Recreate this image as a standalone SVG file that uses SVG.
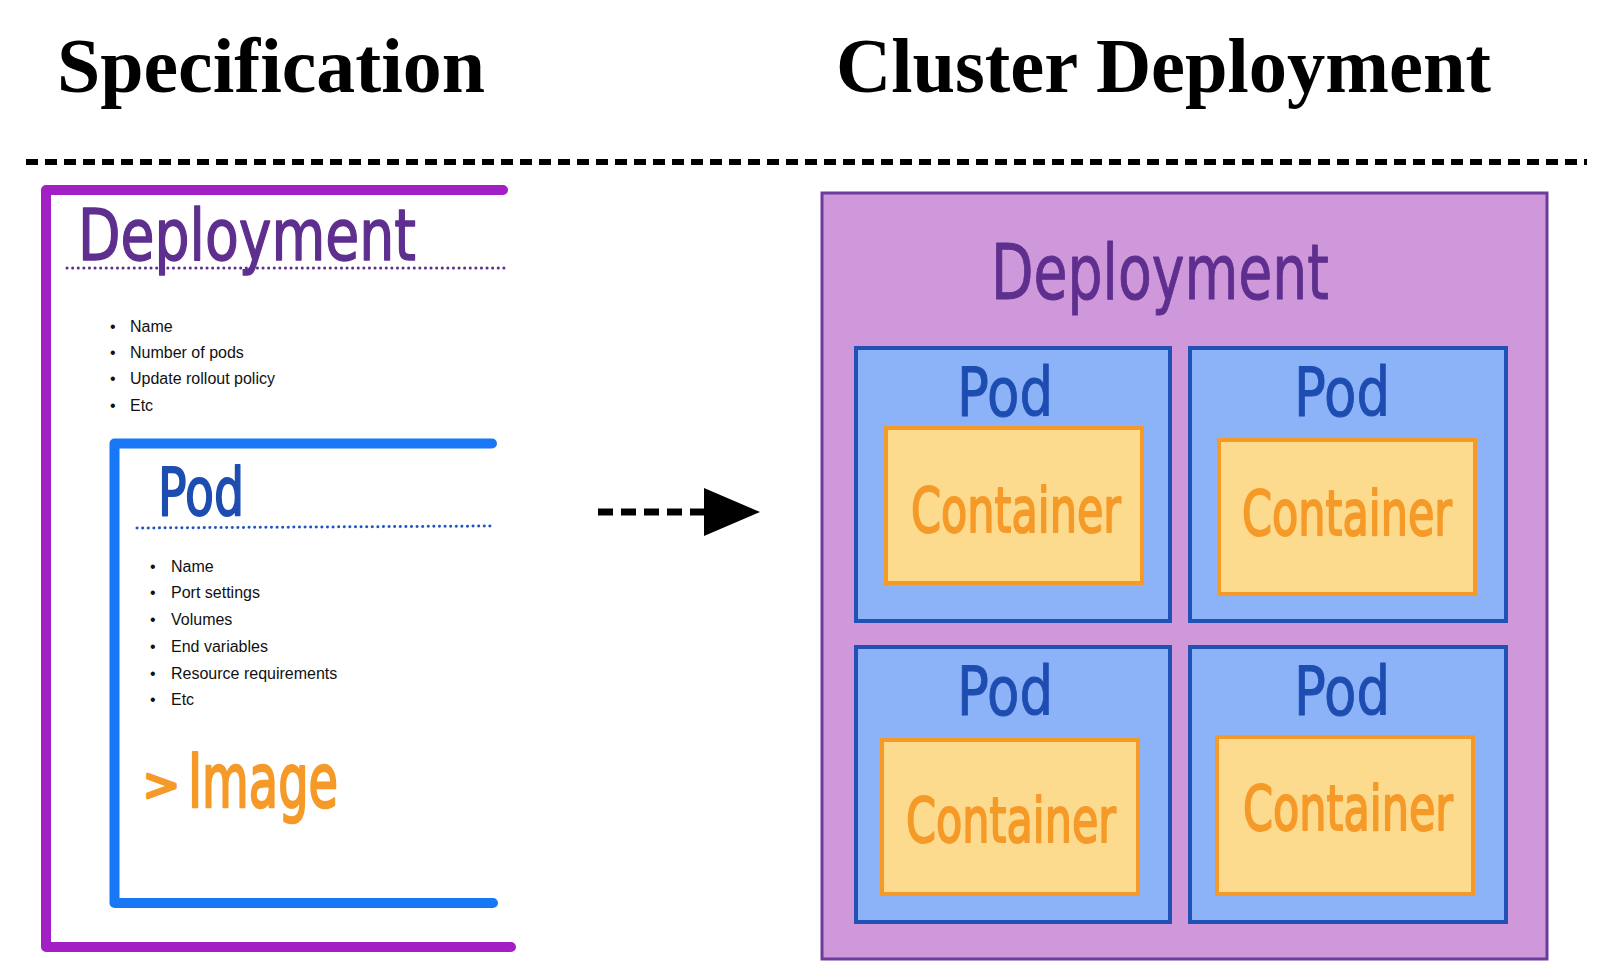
<svg xmlns="http://www.w3.org/2000/svg" width="1602" height="966" viewBox="0 0 1602 966">
  <style>
    .title { font-family: "Liberation Serif", "Times New Roman", serif; font-weight: bold; font-size: 78px; fill: #000; }
    .list { font-family: "Liberation Sans", Arial, sans-serif; font-size: 16px; fill: #111; }
    .hand { font-family: "DejaVu Sans", "Noto Sans", sans-serif; font-weight: normal; stroke-linejoin: round; stroke-linecap: round; }
    .h-purple { fill: #5E2F8E; stroke: #5E2F8E; }
    .h-blue { fill: #1E4DB1; stroke: #1E4DB1; }
    .h-orange { fill: #F59A28; stroke: #F59A28; }
    .bracket { fill: none; stroke-width: 10; stroke-linecap: round; stroke-linejoin: round; }
    .dots { fill: none; stroke-width: 3; stroke-linecap: round; stroke-dasharray: 0.1 5.5; }
    .podbox { fill: #8CB2F8; stroke: #2151B5; stroke-width: 4; }
    .contbox { fill: #FCDB8E; stroke: #F59A27; stroke-width: 4; }
  </style>

  <rect width="1602" height="966" fill="#ffffff"/>

  <!-- Titles -->
  <g id="title-spec">
    <text class="title" x="57" y="92" textLength="428" lengthAdjust="spacingAndGlyphs">Specification</text>
  </g>
  <g id="title-cluster">
    <text class="title" x="836" y="92" textLength="655" lengthAdjust="spacingAndGlyphs">Cluster Deployment</text>
  </g>

  <!-- Divider -->
  <line x1="26" y1="162" x2="1587" y2="162" stroke="#000" stroke-width="6" stroke-dasharray="12 7"/>

  <!-- Specification: Deployment -->
  <g id="spec-deployment">
    <path class="bracket" stroke="#A21EC5" d="M503,190 L46,190 L46,947 L511,947"/>
    <text class="hand h-purple" x="78" y="260" font-size="72" stroke-width="1.5" textLength="338" lengthAdjust="spacingAndGlyphs">Deployment</text>
    <line class="dots" stroke="#5E2F8E" x1="67" y1="268" x2="506" y2="268"/>
    <g class="list">
      <text x="110" y="332">•</text><text x="130" y="332">Name</text>
      <text x="110" y="358">•</text><text x="130" y="358">Number of pods</text>
      <text x="110" y="384">•</text><text x="130" y="384">Update rollout policy</text>
      <text x="110" y="411">•</text><text x="130" y="411">Etc</text>
    </g>
  </g>

  <!-- Specification: Pod -->
  <g id="spec-pod">
    <path class="bracket" stroke="#1877F5" d="M492,443.5 L114.5,443.5 L114.5,903 L493,903"/>
    <text class="hand h-blue" x="158" y="515" font-size="66" stroke-width="2" textLength="86" lengthAdjust="spacingAndGlyphs">Pod</text>
    <line class="dots" stroke="#2154C0" x1="137" y1="528" x2="490" y2="526"/>
    <g class="list">
      <text x="150" y="572">•</text><text x="171" y="572">Name</text>
      <text x="150" y="598">•</text><text x="171" y="598">Port settings</text>
      <text x="150" y="625">•</text><text x="171" y="625">Volumes</text>
      <text x="150" y="652">•</text><text x="171" y="652">End variables</text>
      <text x="150" y="679">•</text><text x="171" y="679">Resource requirements</text>
      <text x="150" y="705">•</text><text x="171" y="705">Etc</text>
    </g>
  </g>

  <!-- Specification: Image -->
  <g id="spec-image">
    <text class="hand h-orange" x="143" y="800" font-size="44" stroke-width="3">&gt;</text>
    <text class="hand h-orange" x="188" y="807" font-size="74" stroke-width="2.5" textLength="150" lengthAdjust="spacingAndGlyphs">Image</text>
  </g>

  <!-- Connectors -->
  <g id="connectors">
    <line x1="598" y1="512" x2="706" y2="512" stroke="#000" stroke-width="7" stroke-dasharray="15 8"/>
    <polygon points="704,488 760,512 704,536" fill="#000"/>
  </g>

  <!-- Cluster Deployment -->
  <g id="cluster-deployment">
    <rect x="822" y="193" width="725" height="766" fill="#CF98DB" stroke="#6A3D9A" stroke-width="3"/>
    <text class="hand h-purple" x="991" y="299" font-size="76" stroke-width="1" textLength="338" lengthAdjust="spacingAndGlyphs">Deployment</text>
  </g>

  <g id="pod-1">
    <rect class="podbox" x="856" y="348" width="314" height="273"/>
    <text class="hand h-blue" x="957" y="416" font-size="68" stroke-width="1" textLength="96" lengthAdjust="spacingAndGlyphs">Pod</text>
  </g>
  <g id="container-1">
    <rect class="contbox" x="886" y="428" width="256" height="155"/>
    <text class="hand h-orange" x="911" y="532" font-size="62" stroke-width="2" textLength="210" lengthAdjust="spacingAndGlyphs">Container</text>
  </g>

  <g id="pod-2">
    <rect class="podbox" x="1190" y="348" width="316" height="273"/>
    <text class="hand h-blue" x="1294" y="416" font-size="68" stroke-width="1" textLength="96" lengthAdjust="spacingAndGlyphs">Pod</text>
  </g>
  <g id="container-2">
    <rect class="contbox" x="1219" y="440" width="256" height="154"/>
    <text class="hand h-orange" x="1242" y="535" font-size="62" stroke-width="2" textLength="210" lengthAdjust="spacingAndGlyphs">Container</text>
  </g>

  <g id="pod-3">
    <rect class="podbox" x="856" y="647" width="314" height="275"/>
    <text class="hand h-blue" x="957" y="715" font-size="68" stroke-width="1" textLength="96" lengthAdjust="spacingAndGlyphs">Pod</text>
  </g>
  <g id="container-3">
    <rect class="contbox" x="882" y="740" width="256" height="154"/>
    <text class="hand h-orange" x="906" y="842" font-size="62" stroke-width="2" textLength="210" lengthAdjust="spacingAndGlyphs">Container</text>
  </g>

  <g id="pod-4">
    <rect class="podbox" x="1190" y="647" width="316" height="275"/>
    <text class="hand h-blue" x="1294" y="715" font-size="68" stroke-width="1" textLength="96" lengthAdjust="spacingAndGlyphs">Pod</text>
  </g>
  <g id="container-4">
    <rect class="contbox" x="1217" y="737" width="256" height="157"/>
    <text class="hand h-orange" x="1243" y="830" font-size="62" stroke-width="2" textLength="210" lengthAdjust="spacingAndGlyphs">Container</text>
  </g>
</svg>
